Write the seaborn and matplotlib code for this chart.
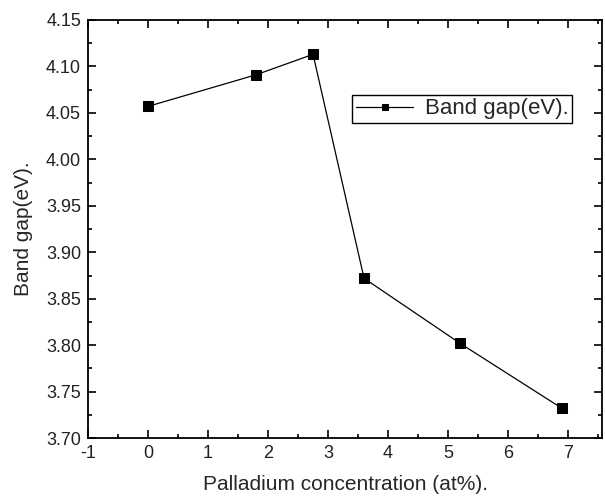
import matplotlib
matplotlib.use("Agg")
import matplotlib.pyplot as plt
import seaborn as sns
import pandas as pd
from matplotlib.ticker import MultipleLocator

# values
pd_conc = [0.0, 1.8, 2.75, 3.6, 5.2, 6.9]
band_gap = [4.057, 4.091, 4.113, 3.872, 3.802, 3.732]

df = pd.DataFrame({"conc": pd_conc, "gap": band_gap})

sns.set_style("ticks")
plt.rcParams['font.family'] = ['Liberation Sans', 'DejaVu Sans']
plt.rcParams['axes.unicode_minus'] = False

fig = plt.figure(figsize=(6.05, 4.99), dpi=100)
ax = fig.add_axes([0.1455, 0.122, 0.85, 0.838])

sns.lineplot(data=df, x="conc", y="gap", ax=ax, color="black", lw=0.9,
             marker="s", markersize=7, markeredgecolor="black",
             label="Band gap(eV).")

ax.set_xlim(-1, 7.57)
ax.set_ylim(3.70, 4.15)
ax.xaxis.set_major_locator(MultipleLocator(1))
ax.xaxis.set_minor_locator(MultipleLocator(0.5))
ax.yaxis.set_major_locator(MultipleLocator(0.05))
ax.yaxis.set_minor_locator(MultipleLocator(0.025))
ax.yaxis.set_major_formatter(plt.FormatStrFormatter("%.2f"))
ax.tick_params(which="both", direction="in", top=True, right=True,
               labelsize=13, color="black", width=1.2, labelcolor="#222222")
ax.tick_params(which="major", length=6, pad=5)
ax.tick_params(which="minor", length=3)
for s in ax.spines.values():
    s.set_linewidth(1.3)
    s.set_color("black")

ax.set_xlabel("Palladium concentration (at%).", fontsize=15, labelpad=9)
ax.set_ylabel("Band gap(eV).", fontsize=15, labelpad=9)

leg = ax.legend(loc="upper right", bbox_to_anchor=(0.962, 0.847), fontsize=16,
                frameon=True, fancybox=False, edgecolor="black",
                handlelength=2.6, handletextpad=0.5, borderpad=0.15,
                markerscale=0.7, framealpha=1)
leg.get_frame().set_linewidth(1.0)

fig.savefig("out.png", dpi=100)
